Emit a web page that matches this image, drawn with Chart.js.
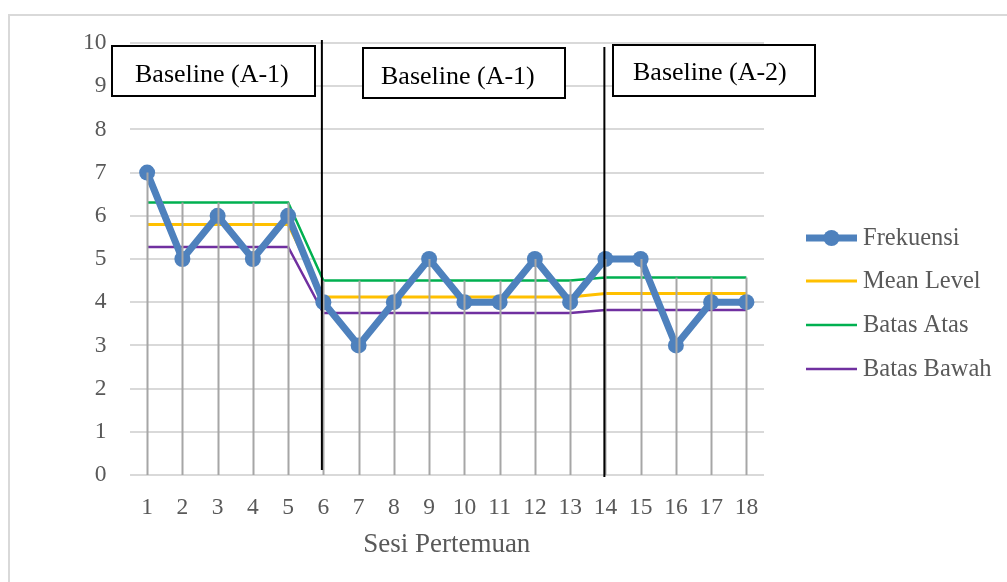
<!DOCTYPE html>
<html>
<head>
<meta charset="utf-8">
<script src="https://cdn.jsdelivr.net/npm/chart.js@4/dist/chart.umd.min.js"></script>
<style>
  html, body { margin: 0; padding: 0; background: #ffffff; }
  #wrap { position: absolute; left: 0; top: 0; width: 1007px; height: 582px; }
</style>
</head>
<body>
<div id="wrap"><canvas id="c" width="1007" height="582"></canvas></div>
<script>
const categories = ['1','2','3','4','5','6','7','8','9','10','11','12','13','14','15','16','17','18'];
const frekuensi  = [7, 5, 6, 5, 6, 4, 3, 4, 5, 4, 4, 5, 4, 5, 5, 3, 4, 4];
const meanLevel  = [5.8, 5.8, 5.8, 5.8, 5.8, 4.12, 4.12, 4.12, 4.12, 4.12, 4.12, 4.12, 4.12, 4.2, 4.2, 4.2, 4.2, 4.2];
const batasAtas  = [6.31, 6.31, 6.31, 6.31, 6.31, 4.5, 4.5, 4.5, 4.5, 4.5, 4.5, 4.5, 4.5, 4.57, 4.57, 4.57, 4.57, 4.57];
const batasBawah = [5.28, 5.28, 5.28, 5.28, 5.28, 3.75, 3.75, 3.75, 3.75, 3.75, 3.75, 3.75, 3.75, 3.82, 3.82, 3.82, 3.82, 3.82];
const phaseLabels = ['Baseline (A-1)', 'Baseline (A-1)', 'Baseline (A-2)'];
const phaseSplitIndex = [5, 13];

const SERIF = '"Liberation Serif", "Times New Roman", serif';
const GRAY_TEXT = '#595959';

const framePlugin = {
  id: 'frame',
  beforeDraw(chart) {
    const ctx = chart.ctx;
    ctx.save();
    ctx.fillStyle = '#ffffff';
    ctx.fillRect(0, 0, chart.width, chart.height);
    ctx.strokeStyle = '#d9d9d9';
    ctx.lineWidth = 2;
    ctx.strokeRect(9, 15, 1100, 1000);
    ctx.restore();
  }
};

const overlayPlugin = {
  id: 'overlay',
  afterDatasetsDraw(chart) {
    const ctx = chart.ctx;
    const xs = chart.scales.x, ys = chart.scales.y;
    ctx.save();
    // drop lines from highest series value down to axis
    ctx.strokeStyle = '#a6a6a6';
    ctx.lineWidth = 2;
    const sets = chart.data.datasets.map(d => d.data);
    for (let i = 0; i < categories.length; i++) {
      const top = Math.max(...sets.map(s => s[i]));
      const x = Math.round(xs.getPixelForValue(i)) + 0.5;
      ctx.beginPath();
      ctx.moveTo(x, ys.getPixelForValue(top));
      ctx.lineTo(x, ys.getPixelForValue(0));
      ctx.stroke();
    }
    // phase separation lines
    ctx.strokeStyle = '#000000';
    ctx.lineWidth = 2;
    const x1 = xs.getPixelForValue(phaseSplitIndex[0]) - 1.5;
    ctx.beginPath();
    ctx.moveTo(x1, ys.getPixelForValue(10) - 3);
    ctx.lineTo(x1, ys.getPixelForValue(0) - 5);
    ctx.stroke();
    const x2 = xs.getPixelForValue(phaseSplitIndex[1]) - 1;
    ctx.beginPath();
    ctx.moveTo(x2, ys.getPixelForValue(10) + 4);
    ctx.lineTo(x2, ys.getPixelForValue(0) + 2);
    ctx.stroke();

    // phase label boxes
    const boxes = [
      {l: 112, t: 46, r: 315, b: 96, tx: 135, ty: 82},
      {l: 363, t: 48, r: 565, b: 98, tx: 381, ty: 84},
      {l: 613, t: 45, r: 815, b: 96, tx: 633, ty: 80}
    ];
    ctx.font = '26px ' + SERIF;
    ctx.textAlign = 'left';
    ctx.textBaseline = 'alphabetic';
    boxes.forEach((bx, k) => {
      ctx.fillStyle = '#ffffff';
      ctx.fillRect(bx.l, bx.t, bx.r - bx.l, bx.b - bx.t);
      ctx.strokeStyle = '#000000';
      ctx.lineWidth = 2;
      ctx.strokeRect(bx.l, bx.t, bx.r - bx.l, bx.b - bx.t);
      ctx.fillStyle = '#000000';
      ctx.fillText(phaseLabels[k], bx.tx, bx.ty);
    });

    // legend
    const lx0 = 806, lx1 = 857, tx = 863;
    const rows = [238, 281, 325, 369];
    ctx.font = '24.5px ' + SERIF;
    ctx.textBaseline = 'middle';
    chart.data.datasets.forEach((ds, k) => {
      const y = rows[k];
      ctx.strokeStyle = ds.borderColor;
      ctx.lineWidth = ds.borderWidth;
      ctx.beginPath();
      ctx.moveTo(lx0, y);
      ctx.lineTo(lx1, y);
      ctx.stroke();
      if (ds.pointRadius > 0) {
        ctx.fillStyle = ds.pointBackgroundColor;
        ctx.beginPath();
        ctx.arc((lx0 + lx1) / 2, y, ds.pointRadius, 0, Math.PI * 2);
        ctx.fill();
      }
      ctx.fillStyle = GRAY_TEXT;
      ctx.fillText(ds.label, tx, y + 1);
    });
    ctx.restore();
  }
};

new Chart(document.getElementById('c'), {
  type: 'line',
  data: {
    labels: categories,
    datasets: [
      { label: 'Frekuensi', data: frekuensi, borderColor: '#4e81bd', backgroundColor: '#4e81bd',
        pointBackgroundColor: '#4e81bd', pointBorderColor: '#4e81bd', borderWidth: 7,
        pointRadius: 8, pointBorderWidth: 0, tension: 0, order: 0 },
      { label: 'Mean Level', data: meanLevel, borderColor: '#ffc000', backgroundColor: '#ffc000',
        borderWidth: 3, pointRadius: 0, tension: 0, order: 1 },
      { label: 'Batas Atas', data: batasAtas, borderColor: '#00b050', backgroundColor: '#00b050',
        borderWidth: 2.5, pointRadius: 0, tension: 0, order: 2 },
      { label: 'Batas Bawah', data: batasBawah, borderColor: '#7030a0', backgroundColor: '#7030a0',
        borderWidth: 2.5, pointRadius: 0, tension: 0, order: 3 }
    ]
  },
  options: {
    responsive: false,
    animation: false,
    layout: { padding: { top: 43, right: 243, left: 0, bottom: 0 } },
    plugins: { legend: { display: false }, tooltip: { enabled: false } },
    scales: {
      x: {
        offset: true,
        grid: { display: false, drawTicks: false },
        border: { display: false },
        ticks: { color: GRAY_TEXT, font: { family: SERIF, size: 23.5 }, padding: 19, maxRotation: 0, autoSkip: false },
        title: { display: true, text: 'Sesi Pertemuan', color: GRAY_TEXT,
                 font: { family: SERIF, size: 27 }, padding: { top: 0, bottom: 21 } },
        afterFit(scale) { scale.height = 107; }
      },
      y: {
        min: 0, max: 10,
        grid: { color: '#d9d9d9', lineWidth: 2, drawTicks: false },
        border: { display: false },
        ticks: { stepSize: 1, color: GRAY_TEXT, font: { family: SERIF, size: 23.5 }, padding: 23 },
        afterFit(scale) { scale.width = 129.5; }
      }
    }
  },
  plugins: [framePlugin, overlayPlugin]
});
</script>
</body>
</html>
